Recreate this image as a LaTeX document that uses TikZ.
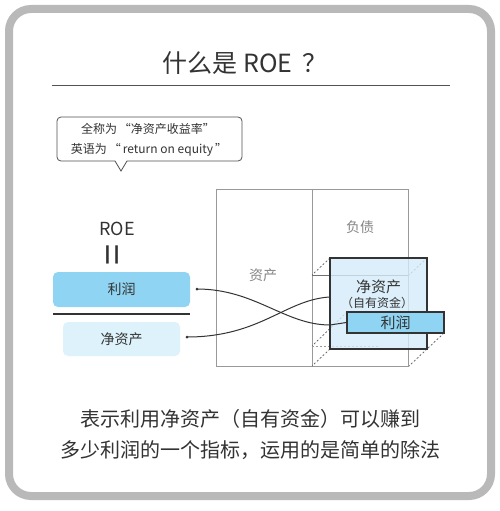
\documentclass[tikz,border=0pt]{standalone}
\usepackage{fontspec}
\setmainfont{Noto Sans CJK SC}
\usetikzlibrary{positioning}

\newlength{\du}
\setlength{\du}{1pt}

\definecolor{framegray}{rgb}{0.725000, 0.725000, 0.725000}
\definecolor{inkgray}{rgb}{0.200000, 0.200000, 0.200000}
\definecolor{sheetgray}{rgb}{0.600000, 0.600000, 0.600000}
\definecolor{labelgray}{rgb}{0.520000, 0.520000, 0.520000}
\definecolor{profitblue}{rgb}{0.560000, 0.830000, 0.950000}
\definecolor{equityblue}{rgb}{0.870000, 0.950000, 0.985000}
\definecolor{cubeblue}{rgb}{0.830000, 0.925000, 0.975000}

\tikzset{
  txt/.style={text=inkgray, inner sep=0pt},
  sheetline/.style={draw=sheetgray, line width=1\du},
  hiddenline/.style={draw=inkgray!80, line width=0.7\du, dash pattern=on 2\du off 2\du},
  pinpoint/.style={circle, fill=inkgray, inner sep=0pt, minimum size=3\du},
  linkcurve/.style={draw=inkgray, line width=1\du},
}

\begin{document}
\begin{tikzpicture}
\pgftransformxscale{1.000000}
\pgftransformyscale{-1.000000}
\useasboundingbox (0\du,0\du) rectangle (500\du,511\du);
\fill[white] (0\du,0\du) rectangle (500\du,511\du);
% frame and title
\draw[framegray, line width=8\du, rounded corners=22\du] (9\du,9\du) rectangle (491\du,496\du);
\node[txt, font=\fontsize{25}{28}\selectfont] (title) at (245\du,63\du) {什么是 ROE \,？};
\draw[inkgray!85, line width=1\du] (52\du,85\du) -- (450\du,85\du);
% callout
\draw[inkgray!85, line width=0.8\du] (121\du,171\du) -- (115\du,161\du) [rounded corners=4\du] -- (57\du,161\du) -- (57\du,117\du) -- (242\du,117\du) -- (242\du,161\du) [sharp corners] -- (127\du,161\du) -- cycle;
\node[txt, font=\fontsize{12}{14}\selectfont] (fullname) at (148\du,129\du) {全称为\,“净资产收益率”};
\node[txt, font=\fontsize{12}{14}\selectfont] (engname) at (149\du,150\du) {英语为\,“\,return on equity\,”};
% fraction
\node[txt, font=\fontsize{18}{20}\selectfont] (roe) at (117\du,229\du) {ROE};
\node[txt, rotate=90, font=\fontsize{38}{38}\selectfont] (equals) at (117\du,255\du) {=};
\node[txt, fill=profitblue, rounded corners=5\du, minimum width=137\du, minimum height=35\du, font=\fontsize{14}{16}\selectfont] (profit) at (121.5\du,289.5\du) {利润};
\draw[inkgray, line width=2.5\du] (53\du,314\du) -- (190\du,314\du);
\node[txt, fill=equityblue, rounded corners=5\du, minimum width=117\du, minimum height=34\du, font=\fontsize{14}{16}\selectfont] (equity) at (121.5\du,339\du) {净资产};
\node[pinpoint] (profitpin) at (197\du,289\du) {};
\node[pinpoint] (equitypin) at (187\du,337\du) {};
% balance sheet
\draw[sheetline] (216\du,189\du) rectangle (408\du,366\du);
\draw[sheetline] (312\du,189\du) -- (312\du,366\du);
\node[txt, text=labelgray, font=\fontsize{14}{16}\selectfont] (assets) at (263\du,275\du) {资产};
\node[txt, text=labelgray, font=\fontsize{14}{16}\selectfont] (debt) at (360\du,227\du) {负债};
\draw[sheetline, draw=inkgray!70] (312\du,275\du) -- (408\du,275\du);
\draw[hiddenline] (330\du,258\du) -- (312\du,275\du);
\draw[hiddenline] (427\du,258\du) -- (409\du,275\du);
\draw[hiddenline] (330\du,349\du) -- (312\du,366\du);
\draw[hiddenline] (427\du,349\du) -- (409\du,366\du);
\draw[hiddenline] (347\du,312\du) -- (312\du,346\du);
\draw[hiddenline, draw=sheetgray] (312\du,346\du) -- (380\du,346\du);
\draw[hiddenline] (444\du,333\du) -- (427\du,349\du);
% cube front face
\node[draw=inkgray, line width=1.3\du, fill=cubeblue, fill opacity=0.8, minimum width=97\du, minimum height=91\du, inner sep=0pt] (cube) at (378.5\du,303.5\du) {};
\node[txt, font=\fontsize{15}{17}\selectfont] (cubetitle) at (378.5\du,287\du) {净资产};
\node[txt, font=\fontsize{12}{14}\selectfont] (cubenote) at (377\du,303\du) {（自有资金）};
\node[txt, draw=inkgray, line width=1.3\du, fill=profitblue, minimum width=97\du, minimum height=21\du, font=\fontsize{15}{17}\selectfont] (slab) at (395.5\du,322.5\du) {利润};
% links
\draw[linkcurve] (profitpin.center) .. controls (255\du,289\du) and (285\du,325\du) .. (330\du,325\du) -- (slab.west);
\draw[linkcurve] (equitypin.center) .. controls (260\du,337\du) and (285\du,300\du) .. (cube.west |- 0\du,297\du);
% summary
\node[txt, font=\fontsize{20}{24}\selectfont] (summaryone) at (250\du,419\du) {表示利用净资产（自有资金）可以赚到};
\node[txt, font=\fontsize{20}{24}\selectfont] (summarytwo) at (250\du,450\du) {多少利润的一个指标，运用的是简单的除法};
\end{tikzpicture}
\end{document}
